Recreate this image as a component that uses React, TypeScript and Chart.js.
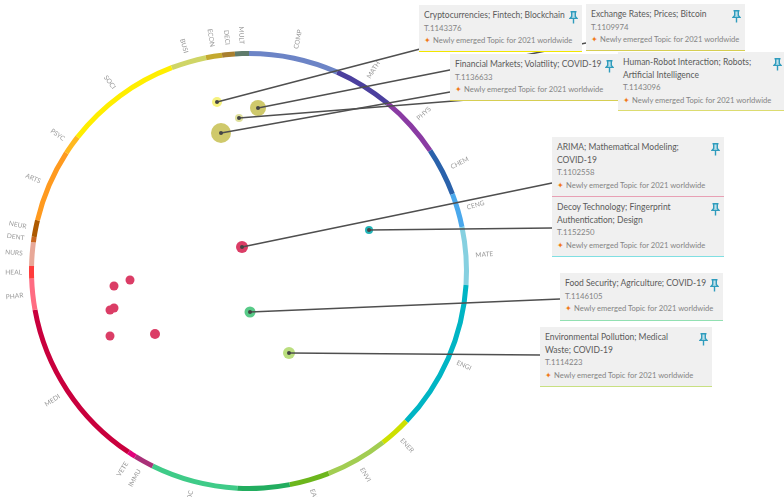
import React, { useEffect, useRef } from "react";
import { Chart, registerables } from "chart.js";

Chart.register(...registerables);

// Ring: subject areas, clockwise from the top, share expressed in degrees
const subjects = ["COMP","MATH","PHYS","CHEM","CENG","MATE","ENGI","ENER","ENVI","EART","AGRI","BIOC","IMMU","VETE","MEDI","PHAR","HEAL","NURS","DENT","NEUR","ARTS","PSYC","SOCI","BUSI","ECON","DECI","MULT"];
const subjectShare = [23.9,15.7,16.8,12.9,9,15.4,40,8.3,16.5,10.7,13.9,23.2,5.2,2.1,46.1,8.3,3.3,6.3,1.4,4.5,19.4,5.1,31.2,9.4,4.3,3.4,3.7];
const subjectColors = ["#6c84c6","#4b3f9e","#8a3ba3","#2a62ab","#4aa8ec","#86d0e0","#00b5c4","#cde000","#a2cd52","#6cb61c","#22ad5f","#3fcb88","#a93078","#e2007c","#c9003d","#ff6c82","#ff3b3b","#e8a898","#c9661f","#ad5900","#ff9a1f","#ffb81f","#ffee00","#cfd566","#c4a92f","#a87f2f","#5f7b6b"];

// Topic dots
const dotX = [217,258,221,239,242,369,250,289,130,114,114,110,110,155];
const dotY = [102,108,133,118,247,230,312,353,280,286,308,310,336,334];
const dotR = [5,8,10,4,6,4,5.5,6,4.5,4.5,4.5,4.5,4.5,5];
const dotColors = ["#f6f27f","#cfc96b","#cfc96b","#dfe09c","#db3d66","#20b4b8","#58ca88","#bade7e","#db3d66","#db3d66","#db3d66","#db3d66","#db3d66","#db3d66"];

// Connectors, dot index → card anchor
const linkDot = [0,1,2,3,4,5,6,7];
const linkEndX = [420,586,450,618,552,552,560,540];
const linkEndY = [49,43,92,88,183,228,299,355];

// Cards
const topicTitles = ["Cryptocurrencies; Fintech; Blockchain","Exchange Rates; Prices; Bitcoin","Financial Markets; Volatility; COVID-19","Human-Robot Interaction; Robots;\nArtificial Intelligence","ARIMA; Mathematical Modeling;\nCOVID-19","Decoy Technology; Fingerprint\nAuthentication; Design","Food Security; Agriculture; COVID-19","Environmental Pollution; Medical\nWaste; COVID-19"];
const topicIds = ["T.1143376","T.1109974","T.1136633","T.1143096","T.1102558","T.1152250","T.1146105","T.1114223"];
const topicNote = "Newly emerged Topic for 2021 worldwide";
const cardLeft = [419,586,450,618,552,552,560,540];
const cardTop = [5,4,54,52,137,197,273,327];
const cardWidth = [163,159,168,168,172,172,163,172];
const cardHeight = [47,47,47,59,60,60,48,60];
const cardAccent = ["#f2e600","#d6ce52","#d6ce52","#dcdc70","#e8a0b4","#80dfe2","#92e0b2","#c8e082"];
const cardDraw = [1,0,2,3,4,5,6,7];

const FONT = "Lato, 'Open Sans', sans-serif";

const radialLabels = {
  id: "radialLabels",
  afterDatasetsDraw(chart: any) {
    const { ctx } = chart;
    const arcs = chart.getDatasetMeta(0).data;
    ctx.save();
    ctx.font = `6.6px ${FONT}`;
    ctx.fillStyle = "#999999";
    ctx.textBaseline = "middle";
    arcs.forEach((arc: any, i: number) => {
      const { x, y, startAngle, endAngle, outerRadius } = arc.getProps(["x","y","startAngle","endAngle","outerRadius"], true);
      const mid = (startAngle + endAngle) / 2;
      const r = outerRadius + 7;
      ctx.save();
      ctx.translate(x + Math.cos(mid) * r, y + Math.sin(mid) * r);
      const right = Math.cos(mid) >= 0;
      ctx.rotate(right ? mid : mid + Math.PI);
      ctx.textAlign = right ? "left" : "right";
      ctx.fillText(subjects[i], 0, 0);
      ctx.restore();
    });
    ctx.restore();
  },
};

function Pin() {
  return (
    <svg width="9" height="13" viewBox="0 0 9 13" style={{ position: "absolute", right: 4, top: 6 }}>
      <path d="M1.5 .8h6M2.7 .8v4.6L1 7.4h7L6.3 5.4V.8M4.5 7.4V12.6" fill="#bfe0ea" stroke="#2f9cbd" strokeWidth="1.4" />
    </svg>
  );
}

export default function App() {
  const ringRef = useRef<HTMLCanvasElement>(null);
  const dotRef = useRef<HTMLCanvasElement>(null);

  useEffect(() => {
    const ring = new Chart(ringRef.current!, {
      type: "doughnut",
      data: {
        labels: subjects,
        datasets: [{ data: subjectShare, backgroundColor: subjectColors, borderWidth: 0 }],
      },
      options: {
        responsive: false,
        animation: false,
        cutout: 215,
        layout: { padding: { left: 29, right: 315, top: 51, bottom: 6 } },
        plugins: { legend: { display: false }, tooltip: { enabled: false } },
      },
      plugins: [radialLabels],
    } as any);

    const links = linkDot.map((d, i) => ({
      type: "line",
      data: [{ x: dotX[d], y: dotY[d] }, { x: linkEndX[i], y: linkEndY[i] }],
      borderColor: "#4f4f4f",
      borderWidth: 1.5,
      pointRadius: 0,
      order: 1,
    }));
    const dots = new Chart(dotRef.current!, {
      type: "bubble",
      data: {
        datasets: [
          {
            type: "bubble",
            data: dotX.map((x, i) => ({ x, y: dotY[i], r: dotR[i] })),
            backgroundColor: dotColors,
            borderWidth: 0,
            order: 2,
          },
          ...links,
          {
            type: "bubble",
            data: linkDot.map((d) => ({ x: dotX[d], y: dotY[d], r: 2 })),
            backgroundColor: "#444444",
            borderWidth: 0,
            order: 0,
          },
        ],
      },
      options: {
        responsive: false,
        animation: false,
        layout: { padding: 0, autoPadding: false },
        scales: {
          x: { type: "linear", display: false, min: 0, max: 784 },
          y: { type: "linear", display: false, min: 0, max: 497, reverse: true },
        },
        plugins: { legend: { display: false }, tooltip: { enabled: false } },
      },
    } as any);

    return () => {
      ring.destroy();
      dots.destroy();
    };
  }, []);

  const layer: React.CSSProperties = { position: "absolute", left: 0, top: 0 };

  return (
    <div style={{ position: "absolute", left: 0, top: 0, width: 784, height: 497, overflow: "hidden", background: "#fff", filter: "blur(0.6px)", fontFamily: FONT }}>
      <canvas ref={ringRef} width={784} height={497} style={layer} />
      <canvas ref={dotRef} width={784} height={497} style={layer} />
      {cardDraw.map((i) => (
        <div
          key={topicIds[i]}
          style={{
            position: "absolute",
            left: cardLeft[i],
            top: cardTop[i],
            width: cardWidth[i],
            height: cardHeight[i],
            boxSizing: "border-box",
            background: "#f0f0f0",
            borderBottom: `1.5px solid ${cardAccent[i]}`,
            padding: "4px 5px 0 5px",
          }}
        >
          <div style={{ fontSize: 8.5, lineHeight: "12.5px", whiteSpace: "pre", color: "#5a5a5a" }}>{topicTitles[i]}</div>
          <div style={{ fontSize: 7.8, lineHeight: "12.5px", color: "#848484" }}>{topicIds[i]}</div>
          <div style={{ fontSize: 7.6, lineHeight: "12.5px", color: "#848484", whiteSpace: "nowrap" }}>
            <span style={{ color: "#f07a1a", marginRight: 2 }}>✦</span>
            {topicNote}
          </div>
          <Pin />
        </div>
      ))}
    </div>
  );
}
